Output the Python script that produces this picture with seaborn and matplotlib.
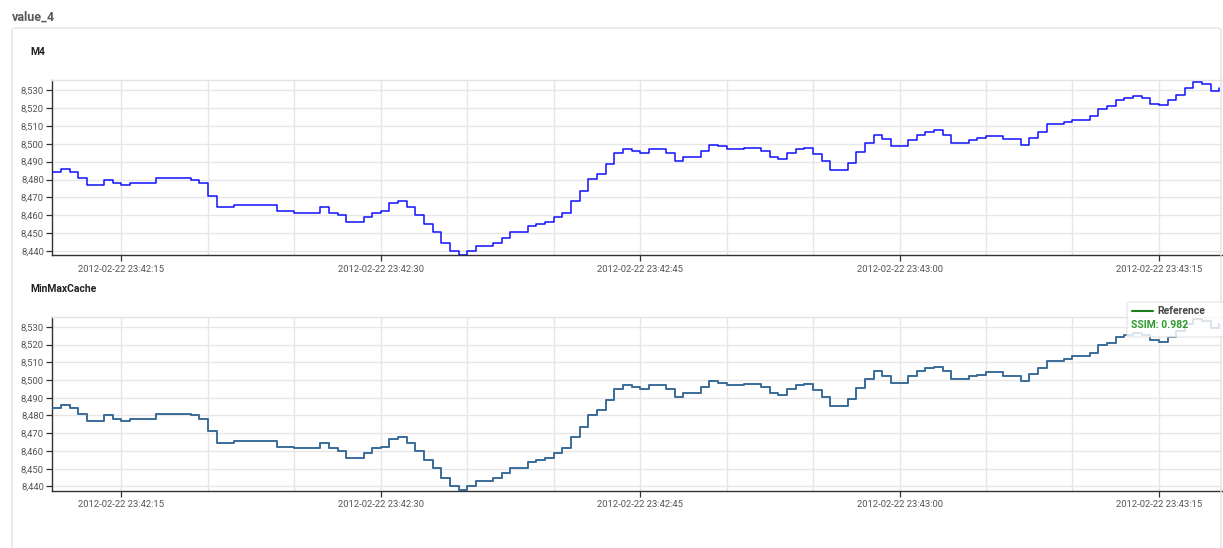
import matplotlib
matplotlib.use("Agg")
import matplotlib.pyplot as plt
import matplotlib.dates as mdates
from matplotlib.patches import FancyBboxPatch
from matplotlib.lines import Line2D
from matplotlib.ticker import FuncFormatter
import seaborn as sns
import pandas as pd

# ---- data ----
start_time = "2012-02-22 23:42:11.0"
sample_interval = "500ms"
values = [
    8484, 8486, 8484, 8481, 8477, 8477, 8480, 8478, 8477, 8478, 8478, 8478,
    8481, 8481, 8481, 8481, 8480, 8478, 8471, 8464.5, 8464.5, 8465.5, 8465.5,
    8465.5, 8465.5, 8465.5,
    8462.5, 8462.5, 8461.5, 8461.5, 8461.5, 8464.5, 8461.5, 8460, 8456, 8456,
    8459, 8461.5, 8462.5, 8467, 8468, 8464.5, 8460,
    8455, 8450.5, 8444.5, 8440, 8438, 8440, 8443, 8443, 8444.5, 8447.5, 8450.5,
    8450.5, 8454, 8455, 8456, 8459, 8461.5, 8468, 8473.5, 8480.5, 8483, 8488.5,
    8495, 8497, 8496, 8495, 8497, 8497, 8495, 8490.5, 8492.5, 8492.5, 8496,
    8499.5, 8498.5, 8497, 8497, 8497.5, 8497.5, 8496, 8492.5, 8491.5, 8495,
    8497, 8497.5,
    8494.5, 8490.5, 8485.5, 8485.5, 8489.5, 8495.5, 8500.5, 8505, 8502.5,
    8498.5, 8498.5, 8502, 8505, 8506.5, 8507.5, 8505, 8500.5, 8500.5, 8502,
    8503, 8504.5, 8504.5, 8502.5, 8502.5, 8499.5, 8503.5, 8506.5, 8511, 8511,
    8512, 8513.5, 8513.5, 8515.5, 8519.5, 8521, 8524.5, 8525.5, 8526.5, 8525.5,
    8522.5, 8521.5, 8524.5, 8527.5, 8531.5, 8534.5, 8533.5, 8529.5, 8531.5,
]
panel_titles = ["M4", "MinMaxCache"]
chart_title = "value_4"
legend_label = "Reference"
ssim_text = "SSIM: 0.982"
y_ticks = [8440, 8450, 8460, 8470, 8480, 8490, 8500, 8510, 8520, 8530]

times = pd.date_range(start=start_time, periods=len(values), freq=sample_interval)
df = pd.DataFrame({"time": times, "value": values})

# ---- style ----
sns.set_theme(style="white")
plt.rcParams["font.family"] = ["Roboto", "DejaVu Sans"]

W, H = 1223, 548
fig = plt.figure(figsize=(W / 100, H / 100), dpi=100)


def fx(px):
    return px / W


def fy(py):
    return 1 - py / H


# panel border
border = FancyBboxPatch((fx(12), fy(560)), fx(1209), (560 - 28) / H,
                        boxstyle="round,pad=0,rounding_size=0.004",
                        transform=fig.transFigure, facecolor="none",
                        edgecolor="#e3e3e3", linewidth=1.0, zorder=0)
fig.patches.append(border)

fig.text(fx(12), fy(17), chart_title, fontsize=9, fontweight="bold",
         color="#5a5a5a", ha="left", va="center")

x0 = pd.Timestamp(start_time)
xlim = (x0, x0 + pd.Timedelta(seconds=67.65))
ylim = (8437.6, 8535.7)

ax_specs = [
    (80, 255.3, 52),     # top, bottom (px), title y
    (316.7, 490.7, 289),
]
axes = []
for (top, bot, ty), title in zip(ax_specs, panel_titles):
    ax = fig.add_axes([fx(52.3), fy(bot), fx(1222) - fx(52.3), (bot - top) / H])
    axes.append(ax)
    fig.text(fx(30), fy(ty), title, fontsize=7.5, fontweight="bold",
             color="#222222", ha="left", va="center")

for i, ax in enumerate(axes):
    sns.lineplot(data=df, x="time", y="value", ax=ax, color="#1010ff",
                 linewidth=1.1, drawstyle="steps-post", estimator=None,
                 zorder=3)
    if i == 1:
        sns.lineplot(data=df, x="time", y="value", ax=ax, color="#3a866a",
                     alpha=0.8, linewidth=1.2, drawstyle="steps-post",
                     estimator=None, zorder=4)
    ax.set_xlim(*xlim)
    ax.set_ylim(*ylim)
    ax.set_xlabel("")
    ax.set_ylabel("")
    ax.set_yticks(y_ticks)
    ax.yaxis.set_major_formatter(FuncFormatter(lambda v, p: f"{int(v):,}"))
    ax.xaxis.set_major_locator(mdates.SecondLocator(bysecond=[0, 15, 30, 45]))
    ax.xaxis.set_minor_locator(mdates.SecondLocator(bysecond=list(range(0, 60, 5))))
    ax.xaxis.set_major_formatter(mdates.DateFormatter("%Y-%m-%d %H:%M:%S"))
    ax.grid(True, which="major", color="#e6e6e6", linewidth=1.0, zorder=0)
    ax.grid(True, which="minor", axis="x", color="#e6e6e6", linewidth=1.0, zorder=0)
    ax.set_axisbelow(True)
    ax.tick_params(axis="both", which="major", labelsize=6.8, labelcolor="#555555",
                   color="#333333", length=4, width=0.9, pad=2, direction="out",
                   left=True, bottom=True)
    ax.tick_params(axis="x", which="minor", length=0)
    ax.tick_params(axis="x", which="major", pad=3)
    ax.spines["right"].set_visible(False)
    ax.spines["top"].set_color("#e3e3e3")
    ax.spines["top"].set_linewidth(1.0)
    for side in ("left", "bottom"):
        ax.spines[side].set_color("#333333")
        ax.spines[side].set_linewidth(1.0)
    ax.patch.set_alpha(0)

# legend box (overlay) for the lower chart
leg_box = FancyBboxPatch((fx(1127), fy(337)), fx(110), (337 - 302) / H,
                         boxstyle="round,pad=0,rounding_size=0.003",
                         transform=fig.transFigure, facecolor="white",
                         alpha=0.82, edgecolor="#dddddd", linewidth=0.8,
                         zorder=10)
fig.patches.append(leg_box)
fig.lines.append(Line2D([fx(1132), fx(1153)], [fy(311), fy(311)],
                        transform=fig.transFigure, color="#1e7b1e",
                        linewidth=1.5, zorder=11))
fig.text(fx(1157), fy(311), legend_label, fontsize=7.5, fontweight="bold",
         color="#444444", ha="left", va="center", zorder=12)
fig.text(fx(1131), fy(325), ssim_text, fontsize=7.5, fontweight="bold",
         color="#2a9a2a", ha="left", va="center", zorder=12)

fig.savefig("out.png", dpi=100)
